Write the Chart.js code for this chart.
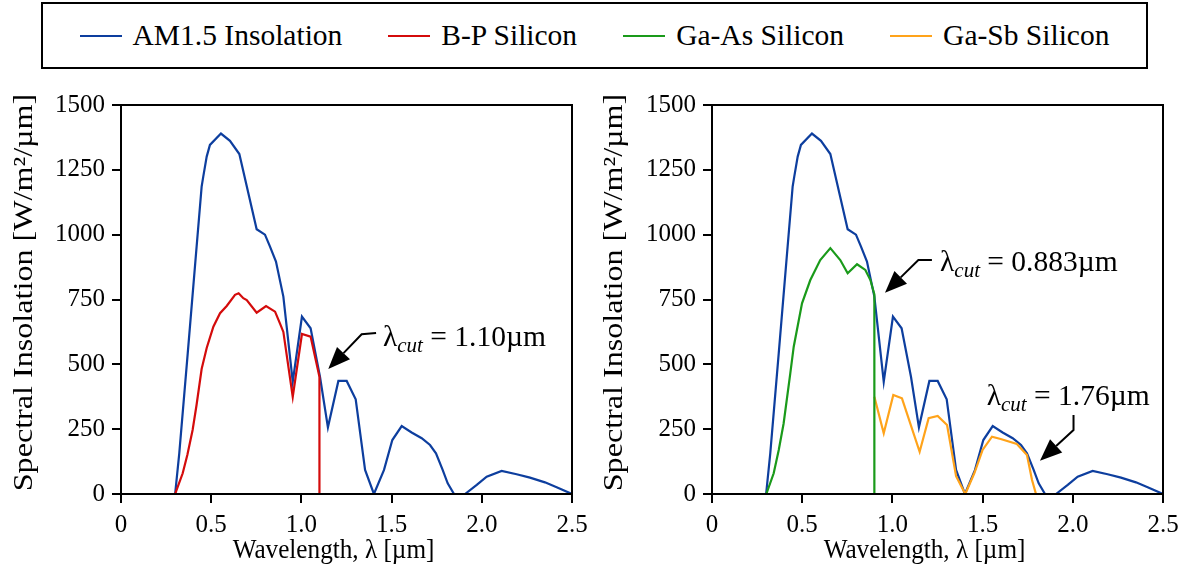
<!DOCTYPE html>
<html>
<head>
<meta charset="utf-8">
<script src="https://cdn.jsdelivr.net/npm/chart.js@4.4.0/dist/chart.umd.min.js"></script>
<style>
  body { margin: 0; background: #fff; width: 1191px; height: 577px; overflow: hidden; position: relative;
         font-family: "Liberation Serif", "Times New Roman", Times, "DejaVu Serif", serif; }
  #legend { position: absolute; left: 41px; top: 2px; width: 1107px; height: 67px; box-sizing: border-box; border: 2px solid #000;
            display: flex; align-items: center; justify-content: center; font-size: 29.5px; color: #000; }
  .item { display: flex; align-items: center; margin: 0 23px; }
  .swatch { flex: 0 0 42px; height: 0; border-top: 2.5px solid; margin-right: 11px; }
  #left { position: absolute; left: 0; top: 70px; }
  #right { position: absolute; left: 595px; top: 70px; }
</style>
</head>
<body>
<div id="legend"></div>
<canvas id="left" width="595" height="507"></canvas>
<canvas id="right" width="596" height="507"></canvas>
<script>
// AM1.5 spectrum
const am15X = [0.30, 0.323, 0.370, 0.416, 0.447, 0.456, 0.475, 0.493, 0.554, 0.604, 0.656, 0.752, 0.798, 0.826, 0.859, 0.90,
               0.952, 1.003, 1.051, 1.103, 1.147, 1.205, 1.251, 1.301, 1.353, 1.402, 1.458, 1.504, 1.556, 1.611, 1.667,
               1.713, 1.746, 1.783, 1.811, 1.846, 1.907, 1.972, 2.027, 2.110, 2.193, 2.267, 2.350, 2.415, 2.50];
const am15Y = [0, 157, 543, 928, 1185, 1224, 1301, 1346, 1390, 1362, 1311, 1021, 1000, 954, 896, 761,
               433, 684, 639, 452, 257, 436, 436, 365, 93, 0, 93, 208, 262, 237, 215,
               189, 157, 93, 41, 0, 0, 35, 67, 89, 76, 63, 45, 26, 0];

// B-P silicon, cut at 1.10 um
const bpX = [0.30, 0.342, 0.368, 0.397, 0.419, 0.447, 0.475, 0.512, 0.549, 0.586, 0.632, 0.652, 0.678, 0.697,
             0.752, 0.804, 0.854, 0.881, 0.90, 0.952, 1.003, 1.051, 1.10, 1.10];
const bpY = [0, 80, 151, 247, 344, 482, 563, 645, 697, 725, 768, 774, 755, 748,
             699, 725, 703, 658, 625, 375, 617, 607, 452, 0];

// Ga-As silicon, cut at 0.9 um
const gaAsX = [0.301, 0.342, 0.370, 0.397, 0.434, 0.453, 0.499, 0.545, 0.60, 0.656, 0.711, 0.752, 0.804, 0.850, 0.878, 0.90, 0.90];
const gaAsY = [0, 80, 170, 272, 465, 568, 735, 825, 902, 948, 902, 851, 886, 864, 825, 770, 0];

// Ga-Sb silicon
const gaSbX = [0.90, 0.952, 1.005, 1.053, 1.151, 1.201, 1.251, 1.303, 1.353, 1.404, 1.454, 1.50, 1.552, 1.60, 1.69, 1.746, 1.774, 1.796];
const gaSbY = [375, 234, 382, 369, 163, 292, 301, 266, 69, 0, 80, 170, 221, 212, 193, 150, 54, 0];

const xTickLabels = ['0', '0.5', '1.0', '1.5', '2.0', '2.5'];
const yTickLabels = ['0', '250', '500', '750', '1000', '1250', '1500'];
const seriesNames = ['AM1.5 Insolation', 'B-P Silicon', 'Ga-As Silicon', 'Ga-Sb Silicon'];
const seriesColors = ['#0d3e9e', '#d40b0b', '#1a9a1a', '#ffa31a'];

const FONT = '"Liberation Serif", "Times New Roman", Times, "DejaVu Serif", serif';

// html legend across both panels
const legend = document.getElementById('legend');
seriesNames.forEach((name, i) => {
  const item = document.createElement('div');
  item.className = 'item';
  item.innerHTML = `<span class="swatch" style="border-color:${seriesColors[i]}"></span><span>${name}</span>`;
  legend.appendChild(item);
});

const pts = (xs, ys) => xs.map((x, i) => ({ x: x, y: ys[i] }));

const line = (label, xs, ys, color) => ({
  label: label,
  data: pts(xs, ys),
  borderColor: color,
  borderWidth: 2.2,
  pointRadius: 0,
  tension: 0,
  fill: false
});

// frame, axis titles (the original's lettering is a bit stretched) and the lambda_cut arrows
const annotate = {
  id: 'annotate',
  afterDraw(chart, args, opts) {
    const { ctx, chartArea: a, scales: { x, y } } = chart;
    const px = p => [x.getPixelForValue(p[0]), y.getPixelForValue(p[1])];
    ctx.save();
    ctx.strokeStyle = '#000';
    ctx.fillStyle = '#000';
    ctx.lineWidth = 2;
    ctx.strokeRect(a.left, a.top, a.right - a.left, a.bottom - a.top);

    ctx.textAlign = 'center';
    ctx.textBaseline = 'middle';

    // x title, a little narrowed
    ctx.save();
    ctx.translate((a.left + a.right) / 2 - 13, a.bottom + 57);
    ctx.scale(0.9, 1);
    ctx.font = '28px ' + FONT;
    ctx.fillText(chart.options.scales.x.title.text, 0, 0);
    ctx.restore();

    // y title, rotated and widened along its length
    ctx.save();
    ctx.translate(y.left + opts.yTitleX, (a.top + a.bottom) / 2 - 7);
    ctx.rotate(-Math.PI / 2);
    ctx.scale(1.19, 1);
    ctx.font = '27px ' + FONT;
    ctx.fillText(chart.options.scales.y.title.text, 0, 0);
    ctx.restore();

    (opts.notes || []).forEach(n => {
      const [sx, sy] = px(n.from);
      const [ex, ey] = px(n.elbow);
      const [tx, ty] = px(n.tip);
      const ang = Math.atan2(ty - ey, tx - ex);
      const hl = 22, hw = 9;
      const bx = tx - hl * Math.cos(ang), by = ty - hl * Math.sin(ang);
      ctx.lineWidth = 2;
      ctx.beginPath();
      ctx.moveTo(sx, sy);
      ctx.lineTo(ex, ey);
      ctx.lineTo(bx, by);
      ctx.stroke();
      ctx.beginPath();
      ctx.moveTo(tx, ty);
      ctx.lineTo(bx + hw * Math.sin(ang), by - hw * Math.cos(ang));
      ctx.lineTo(bx - hw * Math.sin(ang), by + hw * Math.cos(ang));
      ctx.closePath();
      ctx.fill();

      let [lx, ly] = px(n.at);
      ctx.textBaseline = 'alphabetic';
      ctx.textAlign = 'left';
      ctx.font = '29.5px ' + FONT;
      ctx.fillText('λ', lx, ly);
      lx += ctx.measureText('λ').width;
      ctx.font = 'italic 21px ' + FONT;
      ctx.fillText('cut', lx, ly + 6);
      lx += ctx.measureText('cut').width;
      ctx.font = '29.5px ' + FONT;
      ctx.fillText(' = ' + n.value, lx, ly);
    });
    ctx.restore();
  }
};

function makeChart(id, datasets, notes, axisWidth, rightPad, yTitleX) {
  return new Chart(document.getElementById(id), {
    type: 'line',
    data: { datasets: datasets },
    plugins: [annotate],
    options: {
      responsive: false,
      animation: false,
      devicePixelRatio: 1,
      layout: { padding: { left: 0, top: 35, right: rightPad, bottom: 0 } },
      plugins: {
        legend: { display: false },
        tooltip: { enabled: false },
        annotate: { notes: notes, yTitleX: yTitleX }
      },
      scales: {
        x: {
          type: 'linear',
          min: 0,
          max: 2.5,
          afterFit: s => { s.height = 83; },
          border: { display: true, color: '#000', width: 2 },
          grid: { drawOnChartArea: false, drawTicks: true, tickLength: 9, color: '#000', lineWidth: 2 },
          ticks: {
            stepSize: 0.5,
            padding: 7,
            color: '#000',
            font: { family: FONT, size: 25 },
            callback: (v, i) => xTickLabels[i]
          },
          title: { display: false, text: 'Wavelength, λ [µm]' }
        },
        y: {
          min: 0,
          max: 1500,
          afterFit: s => { s.width = axisWidth; },
          border: { display: true, color: '#000', width: 2 },
          grid: { drawOnChartArea: false, drawTicks: true, tickLength: 9, color: '#000', lineWidth: 2 },
          ticks: {
            stepSize: 250,
            padding: 7,
            color: '#000',
            font: { family: FONT, size: 25 },
            callback: (v, i) => yTickLabels[i]
          },
          title: { display: false, text: 'Spectral Insolation [W/m²/µm]' }
        }
      }
    }
  });
}

makeChart('left', [
  line(seriesNames[1], bpX, bpY, seriesColors[1]),
  line(seriesNames[0], am15X, am15Y, seriesColors[0])
], [
  { from: [1.414, 621], elbow: [1.334, 616], tip: [1.149, 482], at: [1.452, 571], value: '1.10µm' }
], 121, 23, 25);

makeChart('right', [
  line(seriesNames[2], gaAsX, gaAsY, seriesColors[2]),
  line(seriesNames[3], gaSbX, gaSbY, seriesColors[3]),
  line(seriesNames[0], am15X, am15Y, seriesColors[0])
], [
  { from: [1.219, 902], elbow: [1.144, 902], tip: [0.959, 776], at: [1.264, 861], value: '0.883µm' },
  { from: [2.004, 305], elbow: [2.004, 247], tip: [1.818, 128], at: [1.523, 343], value: '1.76µm' }
], 117, 28, 20);
</script>
</body>
</html>
